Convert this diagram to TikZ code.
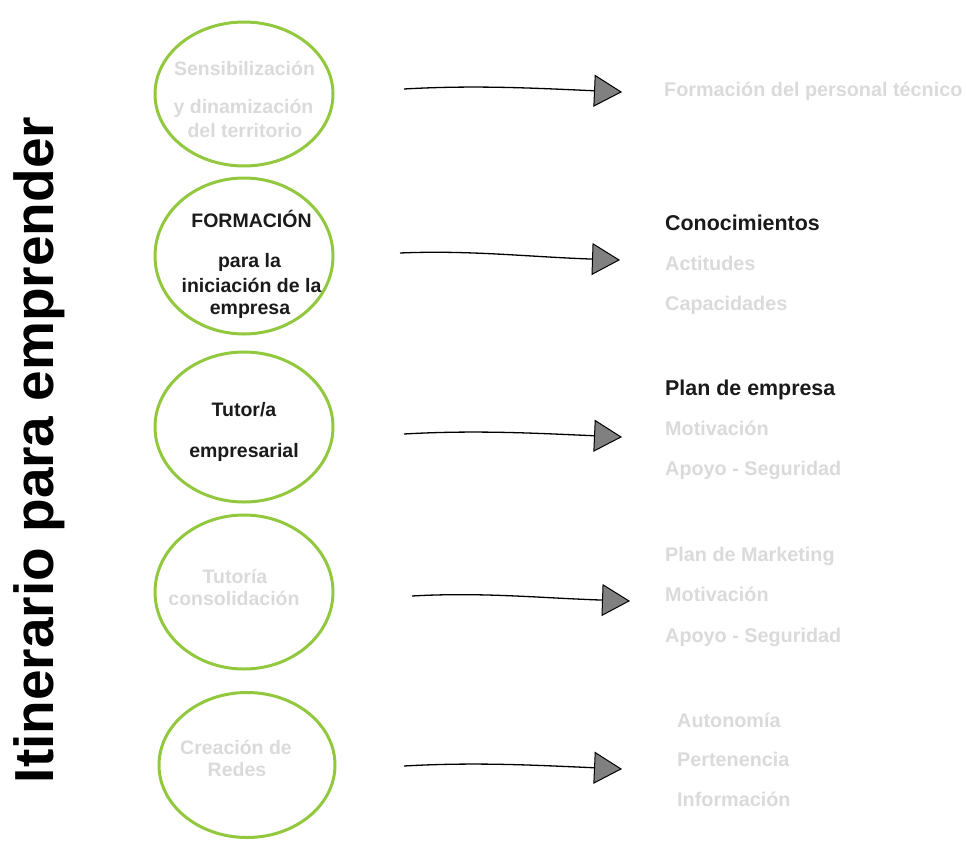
\documentclass[tikz,border=0pt]{standalone}
\usepackage{fontspec}
\setmainfont{Liberation Sans}
\usetikzlibrary{shapes.geometric,arrows.meta,calc}
\definecolor{ringgreen}{HTML}{92C83E}
\definecolor{lightgraytext}{HTML}{DADADA}
\definecolor{darktext}{HTML}{1A1A1A}
\definecolor{headgray}{HTML}{808080}
\begin{document}
\begin{tikzpicture}[x=1pt,y=-1pt,
  ring/.style={ellipse,draw=ringgreen,line width=3pt,inner sep=0pt},
  ctext/.style={anchor=base,inner sep=0pt,font=\fontsize{19.5}{22}\selectfont\bfseries},
  rtext/.style={anchor=base west,inner sep=0pt,font=\fontsize{19.8}{22}\selectfont\bfseries,text=lightgraytext},
  rblack/.style={anchor=base west,inner sep=0pt,font=\fontsize{21.4}{24}\selectfont\bfseries,text=darktext},
  flow/.style={draw=black,line width=1.3pt,-{Triangle[length=28pt,width=32pt,fill=headgray,line width=1pt]}}
]
\useasboundingbox (0,0) rectangle (966,846);

% title
\node[anchor=base,rotate=90,inner sep=0pt,font=\fontsize{55}{60}\selectfont\bfseries,text=black] (title) at (53,450) {Itinerario para emprender};

% rings
\node[ring,minimum width=178pt,minimum height=144pt] (e1) at (244,94) {};
\node[ring,minimum width=178pt,minimum height=156pt] (e2) at (244,256) {};
\node[ring,minimum width=178pt,minimum height=150pt] (e3) at (244,427) {};
\node[ring,minimum width=178pt,minimum height=154pt] (e4) at (244,592) {};
\node[ring,minimum width=176pt,minimum height=145pt] (e5) at (247,765) {};

% ring texts
\node[ctext,text=lightgraytext] (t1a) at (244.5,75) {Sensibilización};
\node[ctext,text=lightgraytext] (t1b) at (243.5,113) {y dinamización};
\node[ctext,text=lightgraytext] (t1c) at (245,137) {del territorio};

\node[ctext,text=darktext] (t2a) at (251.5,227) {FORMACIÓN};
\node[ctext,text=darktext] (t2b) at (249.5,267) {para la};
\node[ctext,text=darktext] (t2c) at (251.5,292) {iniciación de la};
\node[ctext,text=darktext] (t2d) at (250,314) {empresa};

\node[ctext,text=darktext] (t3a) at (244,416) {Tutor/a};
\node[ctext,text=darktext] (t3b) at (244,457) {empresarial};

\node[ctext,text=lightgraytext] (t4a) at (235,583) {Tutoría};
\node[ctext,text=lightgraytext] (t4b) at (234,605) {consolidación};

\node[ctext,text=lightgraytext] (t5a) at (236,754) {Creación de};
\node[ctext,text=lightgraytext] (t5b) at (237,776) {Redes};

% right texts
\node[rtext] (r1a) at (664,96) {Formación del personal técnico};

\node[rblack] (r2a) at (665,230) {Conocimientos};
\node[rtext] (r2b) at (665,270) {Actitudes};
\node[rtext] (r2c) at (665,310) {Capacidades};

\node[rblack] (r3a) at (665,395) {Plan de empresa};
\node[rtext] (r3b) at (665,435) {Motivación};
\node[rtext] (r3c) at (665,475) {Apoyo - Seguridad};

\node[rtext] (r4a) at (665,561) {Plan de Marketing};
\node[rtext] (r4b) at (665,601) {Motivación};
\node[rtext] (r4c) at (665,642) {Apoyo - Seguridad};

\node[rtext] (r5a) at (677,727) {Autonomía};
\node[rtext] (r5b) at (677,766) {Pertenencia};
\node[rtext] (r5c) at (677,806) {Información};

% arrow endpoints
\coordinate (a1s) at (404,89);  \coordinate (a1e) at (622,92);
\coordinate (a2s) at (400,253); \coordinate (a2e) at (620,260);
\coordinate (a3s) at (404,434); \coordinate (a3e) at (622,437);
\coordinate (a4s) at (412,596); \coordinate (a4e) at (630,601);
\coordinate (a5s) at (404,766); \coordinate (a5e) at (622,769);

\draw[flow] (a1s) .. controls ($(a1s)+(70,-4)$) and ($(a1e)+(-90,-4)$) .. (a1e);
\draw[flow] (a2s) .. controls ($(a2s)+(70,-3)$) and ($(a2e)+(-90,-3)$) .. (a2e);
\draw[flow] (a3s) .. controls ($(a3s)+(70,-4)$) and ($(a3e)+(-90,-4)$) .. (a3e);
\draw[flow] (a4s) .. controls ($(a4s)+(70,-4)$) and ($(a4e)+(-90,-3)$) .. (a4e);
\draw[flow] (a5s) .. controls ($(a5s)+(70,-4)$) and ($(a5e)+(-90,-4)$) .. (a5e);
\end{tikzpicture}
\end{document}
